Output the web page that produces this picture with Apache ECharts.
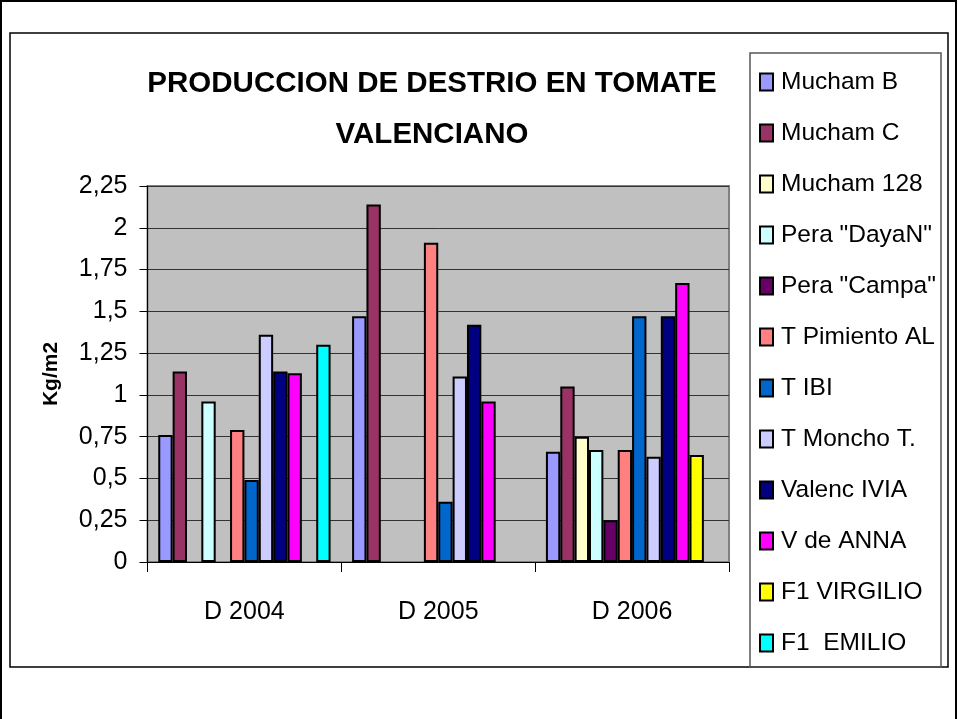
<!DOCTYPE html>
<html>
<head>
<meta charset="utf-8">
<script src="https://cdn.jsdelivr.net/npm/echarts@6/dist/echarts.min.js"></script>
<style>
html,body{margin:0;padding:0;background:#fff;}
#chart{width:958px;height:719px;}
</style>
</head>
<body>
<div id="chart"></div>
<script>
const categories = ['D 2004', 'D 2005', 'D 2006'];
const seriesNames = ['Mucham B', 'Mucham C', 'Mucham 128', 'Pera "DayaN"', 'Pera "Campa"', 'T Pimiento AL', 'T IBI', 'T Moncho T.', 'Valenc IVIA', 'V de ANNA', 'F1 VIRGILIO', 'F1  EMILIO'];
const muchamB    = [0.76, 1.47, 0.66];
const muchamC    = [1.14, 2.14, 1.05];
const mucham128  = [null, null, 0.75];
const peraDayaN  = [0.96, null, 0.67];
const peraCampa  = [null, null, 0.25];
const tPimiento  = [0.79, 1.91, 0.67];
const tIBI       = [0.49, 0.36, 1.47];
const tMoncho    = [1.36, 1.11, 0.63];
const valencIVIA = [1.14, 1.42, 1.47];
const vDeAnna    = [1.13, 0.96, 1.67];
const f1Virgilio = [null, null, 0.64];
const f1Emilio   = [1.30, null, null];
const yTicks = { min: 0, max: 2.25, interval: 0.25 };

const seriesValues = [muchamB, muchamC, mucham128, peraDayaN, peraCampa, tPimiento, tIBI, tMoncho, valencIVIA, vDeAnna, f1Virgilio, f1Emilio];
const colors = ['#9999FF', '#993366', '#FFFFCC', '#CCFFFF', '#660066', '#FF8080', '#0066CC', '#CCCCFF', '#000080', '#FF00FF', '#FFFF00', '#00FFFF'];

const FONT = "'Liberation Sans', Arial, sans-serif";

const chart = echarts.init(document.getElementById('chart'));
chart.setOption({
  animation: false,
  backgroundColor: '#ffffff',
  color: colors,
  title: {
    text: 'PRODUCCION DE DESTRIO EN TOMATE\nVALENCIANO',
    left: 432,
    top: 58,
    padding: 0,
    textAlign: 'center',
    textStyle: { fontFamily: FONT, fontSize: 29.5, fontWeight: 'bold', color: '#000', lineHeight: 51 }
  },
  graphic: [
    { type: 'rect', z: -10, shape: { x: 1, y: 1, width: 955, height: 740 }, style: { fill: null, stroke: '#000', lineWidth: 2 } },
    { type: 'rect', z: -10, shape: { x: 10, y: 33, width: 938, height: 634 }, style: { fill: null, stroke: '#000', lineWidth: 1.5 } },
    { type: 'rect', z: -10, shape: { x: 750, y: 53, width: 191, height: 614 }, style: { fill: null, stroke: '#555', lineWidth: 1.5 } }
  ],
  legend: {
    orient: 'vertical',
    left: 759,
    top: 67,
    padding: 0,
    itemGap: 21,
    itemWidth: 13,
    itemHeight: 17,
    icon: 'rect',
    textStyle: { fontFamily: FONT, fontSize: 24.5, lineHeight: 30, color: '#000', padding: [0, 0, 0, 3] },
    data: seriesNames
  },
  grid: {
    left: 147.5, right: 229, top: 186, bottom: 157,
    show: true, backgroundColor: '#C0C0C0', borderColor: '#808080', borderWidth: 2
  },
  xAxis: {
    type: 'category',
    data: categories,
    axisLine: { lineStyle: { color: '#000', width: 1 } },
    axisTick: { show: true, length: 10, lineStyle: { color: '#000' } },
    axisLabel: { fontFamily: FONT, fontSize: 25, color: '#000', margin: 38 },
    splitLine: { show: false }
  },
  yAxis: {
    type: 'value',
    min: yTicks.min, max: yTicks.max, interval: yTicks.interval,
    name: 'Kg/m2',
    nameLocation: 'middle',
    nameRotate: 90,
    nameGap: 86,
    nameTextStyle: { fontFamily: FONT, fontSize: 21, fontWeight: 'bold', color: '#000' },
    axisLine: { show: true, lineStyle: { color: '#000', width: 1 } },
    axisTick: { show: true, length: 8, lineStyle: { color: '#000' } },
    axisLabel: { fontFamily: FONT, fontSize: 25, color: '#000', margin: 20,
      formatter: v => String(v).replace('.', ',') },
    splitLine: { show: true, lineStyle: { color: '#333', width: 1 } }
  },
  series: seriesNames.map((n, i) => ({
    name: n,
    type: 'bar',
    data: seriesValues[i],
    barGap: '0%',
    barCategoryGap: '11.1%',
    itemStyle: { color: colors[i], borderColor: '#000', borderWidth: 2 }
  }))
});
</script>
</body>
</html>
